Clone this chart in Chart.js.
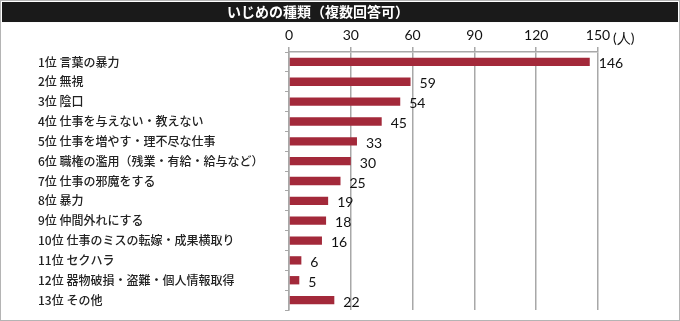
<!DOCTYPE html>
<html>
<head>
<meta charset="utf-8">
<script src="https://cdn.jsdelivr.net/npm/chart.js@4"></script>
<style>
  body { margin: 0; background: #fff; }
  canvas { display: block; }
</style>
</head>
<body>
<canvas id="bullyingChart" width="680" height="321"></canvas>
<script>
const chartTitle = 'いじめの種類（複数回答可）';
const categories = [
    '1位 言葉の暴力',
    '2位 無視',
    '3位 陰口',
    '4位 仕事を与えない・教えない',
    '5位 仕事を増やす・理不尽な仕事',
    '6位 職権の濫用（残業・有給・給与など）',
    '7位 仕事の邪魔をする',
    '8位 暴力',
    '9位 仲間外れにする',
    '10位 仕事のミスの転嫁・成果横取り',
    '11位 セクハラ',
    '12位 器物破損・盗難・個人情報取得',
    '13位 その他'
];
const counts = [146, 59, 54, 45, 33, 30, 25, 19, 18, 16, 6, 5, 22];
const tickValues = [0, 30, 60, 90, 120, 150];
const unitLabel = '(人)';

const barColor = '#a3293a';
const gridColor = '#a8a8a8';

// background, frame and black title bar
const framePlugin = {
    id: 'frame',
    beforeDraw(chart) {
        const ctx = chart.ctx;
        const t = chart.titleBlock;
        ctx.save();
        ctx.fillStyle = '#fff';
        ctx.fillRect(0, 0, chart.width, chart.height);
        ctx.fillStyle = '#1a1a1a';
        ctx.fillRect(2, t.top, chart.width - 4, t.bottom - t.top);
        ctx.strokeStyle = '#b4b4b4';
        ctx.lineWidth = 1;
        ctx.strokeRect(0.5, 0.5, chart.width - 1, chart.height - 1);
        ctx.restore();
    }
};

// value labels next to the bars and the unit after the last tick
const valueLabelPlugin = {
    id: 'valueLabels',
    afterDatasetsDraw(chart) {
        const ctx = chart.ctx;
        const meta = chart.getDatasetMeta(0);
        ctx.save();
        ctx.font = '14px Lato';
        ctx.fillStyle = '#111';
        ctx.textAlign = 'left';
        ctx.textBaseline = 'middle';
        meta.data.forEach((bar, i) => {
            ctx.fillText(String(counts[i]), bar.x + 9, bar.y + 2);
        });
        const xs = chart.scales.x;
        ctx.fillText(unitLabel, xs.getPixelForValue(tickValues[tickValues.length - 1]) + 15, 38);
        ctx.restore();
    }
};

new Chart(document.getElementById('bullyingChart'), {
    type: 'bar',
    data: {
        labels: categories,
        datasets: [{
            data: counts,
            backgroundColor: barColor,
            barPercentage: 0.42,
            categoryPercentage: 1
        }]
    },
    options: {
        indexAxis: 'y',
        responsive: false,
        animation: false,
        layout: { padding: { left: 38, right: 82, top: 2, bottom: 11 } },
        plugins: {
            legend: { display: false },
            tooltip: { enabled: false },
            title: {
                display: true,
                text: chartTitle,
                color: '#fff',
                padding: 0,
                font: { family: 'Noto Sans CJK JP', size: 14, weight: 'bold', lineHeight: 1.43 }
            }
        },
        scales: {
            x: {
                position: 'top',
                min: 0,
                max: 150,
                afterBuildTicks: (scale) => {
                    scale.ticks = tickValues.map(v => ({ value: v }));
                },
                afterFit: (scale) => { scale.height = 30; },
                ticks: {
                    color: '#111',
                    padding: 3,
                    font: { family: 'Lato', size: 14 }
                },
                grid: { color: gridColor, lineWidth: 1.5, tickLength: 5 },
                border: { color: gridColor, width: 1.5 }
            },
            y: {
                afterFit: (scale) => { scale.width = 251; },
                ticks: {
                    crossAlign: 'far',
                    color: '#222',
                    font: { family: 'Noto Sans CJK JP', size: 12, weight: '500' }
                },
                grid: { drawOnChartArea: false, color: gridColor, tickLength: 4, offset: true },
                border: { color: gridColor, width: 1.5 }
            }
        }
    },
    plugins: [framePlugin, valueLabelPlugin]
});
</script>
</body>
</html>
